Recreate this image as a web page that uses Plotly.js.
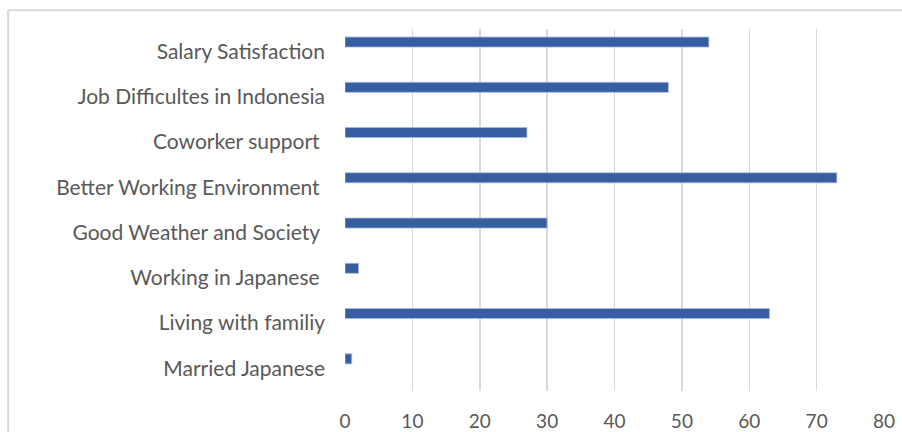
<!DOCTYPE html>
<html>
<head>
<meta charset="utf-8">
<script src="https://cdn.plot.ly/plotly-3.0.1.min.js"></script>
<style>
  html, body { margin: 0; padding: 0; background: #ffffff; }
  #chart { width: 902px; height: 432px; }
</style>
</head>
<body>
<div id="chart"></div>
<script>
// Categories, top to bottom as shown
const categories = [
  "Salary Satisfaction",
  "Job Difficultes in Indonesia",
  "Coworker support\u00a0",
  "Better Working Environment\u00a0",
  "Good Weather and Society\u00a0",
  "Working in Japanese\u00a0",
  "Living with familiy",
  "Married Japanese"
];
const values = [54, 48, 27, 73, 30, 2, 63, 1];
const xTickValues = [0, 10, 20, 30, 40, 50, 60, 70, 80];

const trace = {
  type: "bar",
  orientation: "h",
  y: categories,
  x: values,
  offset: -0.322,
  width: 0.222,
  marker: { color: "#365ea0", line: { color: "#a7bbdd", width: 0.8 } },
  hoverinfo: "x+y"
};

const layout = {
  width: 902,
  height: 432,
  margin: { l: 345, r: 18, t: 29, b: 41, pad: 0 },
  paper_bgcolor: "#ffffff",
  plot_bgcolor: "#ffffff",
  showlegend: false,
  font: { family: "Lato, 'Open Sans', sans-serif", size: 20, color: "#595959" },
  xaxis: {
    range: [0, 80],
    tickvals: xTickValues,
    ticktext: xTickValues.map(String),
    showgrid: true,
    gridcolor: "#d9d9d9",
    gridwidth: 1.5,
    zeroline: false,
    showline: false,
    ticks: "",
    ticklabelstandoff: 17,
    tickfont: { size: 19, color: "#595959" },
    fixedrange: true
  },
  yaxis: {
    type: "category",
    categoryorder: "array",
    categoryarray: categories,
    range: [7.5, -0.5],
    showgrid: false,
    zeroline: false,
    showline: false,
    ticks: "",
    ticklabelstandoff: 19,
    tickfont: { size: 21, color: "#595959" },
    fixedrange: true
  },
  shapes: [
    { type: "line", xref: "paper", yref: "paper", x0: -0.625, x1: 1.2, y0: 1.052, y1: 1.052,
      line: { color: "#d9d9d9", width: 2 } },
    { type: "line", xref: "paper", yref: "paper", x0: -0.625, x1: -0.625, y0: 1.052, y1: -0.3,
      line: { color: "#d9d9d9", width: 2 } }
  ]
};

Plotly.newPlot("chart", [trace], layout, { displayModeBar: false, staticPlot: true });
</script>
</body>
</html>
